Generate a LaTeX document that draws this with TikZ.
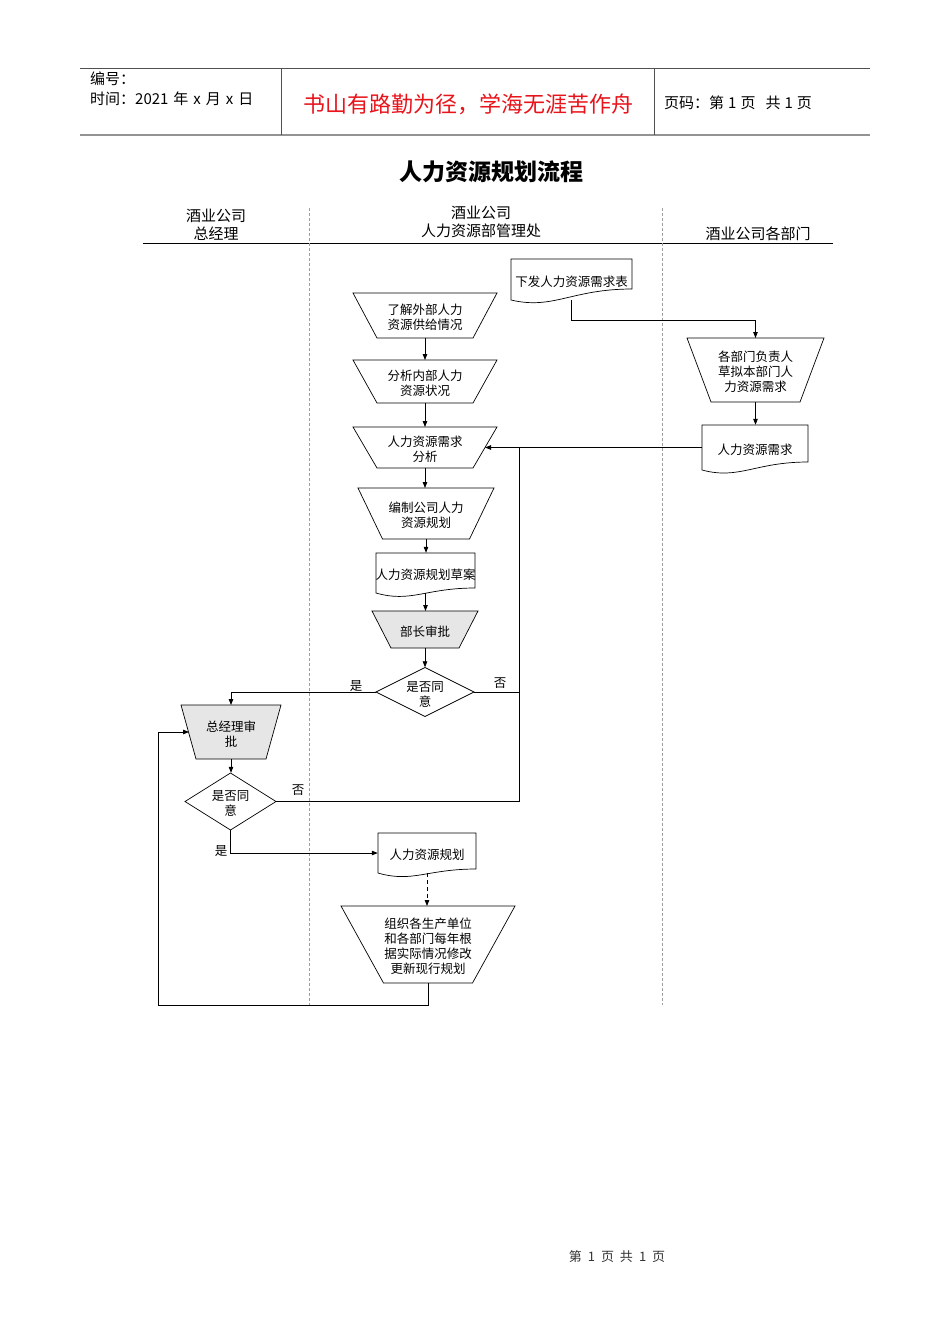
\documentclass[tikz,border=0pt]{standalone}
\usepackage{fontspec}
\setmainfont{Noto Sans CJK SC}
\usetikzlibrary{arrows.meta,calc}
\definecolor{shade}{HTML}{E6E6E6}
\definecolor{hdrline}{HTML}{505050}
\definecolor{redtxt}{HTML}{E8141B}
\tikzset{
 shapeline/.style={draw=black, line width=0.7pt},
 box/.style={inner sep=0pt},
 txt/.style={inner sep=0pt, align=center, font=\fontsize{12.5}{15}\selectfont},
 lbl/.style={inner sep=0pt, font=\fontsize{12.5}{14}\selectfont},
 hdr/.style={inner sep=0pt, align=center, font=\fontsize{15}{18}\selectfont},
 conn/.style={draw=black, line width=0.8pt},
 arr/.style={conn, -{Triangle[length=6pt,width=4.5pt]}},
 lane/.style={draw=gray!75, line width=0.5pt, dash pattern=on 3pt off 2pt},
}
\newcommand{\trapz}[8]{%
  \path[shapeline, fill=#7] (#2-#4/2,#3) -- (#2+#4/2,#3) -- (#2+#5/2,#3+#6) -- (#2-#5/2,#3+#6) -- cycle;
  \node[box, minimum width={#4*1pt}, minimum height={#6*1pt}, anchor=north] (#1) at (#2,#3) {};
  \node[txt] (#1t) at ($(#1.center)+(0,2)$) {#8};
}
\newcommand{\dmd}[6]{%
  \path[shapeline, fill=white] (#2-#4/2,#3) -- (#2,#3-#5/2) -- (#2+#4/2,#3) -- (#2,#3+#5/2) -- cycle;
  \node[box, minimum width={#4*1pt}, minimum height={#5*1pt}] (#1) at (#2,#3) {};
  \node[txt] (#1t) at ($(#1.center)+(0,2)$) {#6};
}
\newcommand{\docu}[7]{%
  \path[shapeline, fill=white] (#2,#3) -- (#4,#3) -- (#4,#5) .. controls ({#4-0.5*(#4-#2)},#5) and ({#2+0.35*(#4-#2)},#6+10) .. (#2,#6) -- cycle;
  \node[box, minimum width={(#4-#2)*1pt}, minimum height={(#6-#3)*1pt}] (#1) at ({(#2+#4)/2},{(#3+#6)/2}) {};
  \node[txt] (#1t) at ($(#1.center)+(0,2)$) {#7};
}
\begin{document}
\begin{tikzpicture}[x=1pt,y=-1pt]
\fill[white] (0,0) rectangle (950,1344);
\useasboundingbox (0,0) rectangle (950,1344);
% header
\draw[hdrline, line width=1pt] (80,68) -- (870,68);
\draw[gray!85, line width=1.8pt] (80,135) -- (870,135);
\draw[hdrline, line width=0.8pt] (281,68) -- (281,135);
\draw[hdrline, line width=0.8pt] (654,68) -- (654,135);
\node[hdr, anchor=west] (h1) at (90,79) {编号：};
\node[hdr, anchor=west] (h2) at (90,99) {时间：2021\hspace{5pt}年\hspace{5pt}x\hspace{5pt}月\hspace{5pt}x\hspace{5pt}日};
\node[inner sep=0pt, font=\fontsize{22}{24}\selectfont, text=redtxt] (h3) at (468,104) {书山有路勤为径，学海无涯苦作舟};
\node[hdr, anchor=west] (h4) at (664,103) {页码：第\hspace{4pt}1\hspace{4pt}页\hspace{10pt}共\hspace{4pt}1\hspace{4pt}页};
% title
\node[inner sep=0pt, font=\bfseries\fontsize{23}{26}\selectfont] (title) at (491,172) {人力资源规划流程};
% lanes
\node[hdr] (l1) at (216,225) {酒业公司\\总经理};
\node[hdr] (l2) at (481,222) {酒业公司\\人力资源部管理处};
\node[hdr] (l3) at (758,234) {酒业公司各部门};
\draw[black, line width=0.9pt] (143,243) -- (833,243);
\draw[lane] (309,208) -- (309,1005);
\draw[lane] (662,208) -- (662,1005);
% shapes
\trapz{n1}{425}{293}{144}{96}{45}{white}{了解外部人力\\资源供给情况}
\trapz{n2}{425}{360}{144}{96}{43}{white}{分析内部人力\\资源状况}
\trapz{n3}{425}{427}{144}{96}{41}{white}{人力资源需求\\分析}
\trapz{n4}{426}{488}{136}{87}{51}{white}{编制公司人力\\资源规划}
\docu{n5}{376}{553}{475}{588}{593}{人力资源规划草案}
\trapz{n6}{425}{611}{106}{68}{37}{shade}{部长审批}
\dmd{d7}{425}{692}{98}{49}{是否同\\意}
\docu{r1}{511}{259}{632}{289}{300}{下发人力资源需求表}
\trapz{r2}{755.5}{338}{137}{89}{64}{white}{各部门负责人\\草拟本部门人\\力资源需求}
\docu{r3}{702}{425}{808}{462}{470}{人力资源需求}
\trapz{g1}{231}{705}{100}{70}{54}{shade}{总经理审\\批}
\dmd{d12}{230.5}{801.5}{91}{57}{是否同\\意}
\docu{n13}{378}{833}{476}{869}{873}{人力资源规划}
\trapz{n14}{428}{906}{174}{89}{77}{white}{组织各生产单位\\和各部门每年根\\据实际情况修改\\更新现行规划}
% labels
\node[lbl] (y1) at (356,686) {是};
\node[lbl] (no1) at (500,683) {否};
\node[lbl] (no2) at (298,790) {否};
\node[lbl] (y2) at (221,851) {是};
% connectors
\coordinate (n3e) at (485,447.5);
\coordinate (j1) at (519,447.5);
\coordinate (lp) at (158,1005);
\coordinate (g1w) at (189,732);
\draw[arr] (n1.south) -- (n2.north);
\draw[arr] (n2.south) -- (n3.north);
\draw[arr] (n3.south) -- (n3.south |- n4.north);
\draw[arr] (n4.south) -- (n4.south |- n5.north);
\draw[arr] (n5.south) -- (n5.south |- n6.north);
\draw[arr] (n6.south) -- (d7.north);
\draw[arr] (r1.south) |- ($(r2.north)+(0,-18)$) -- (r2.north);
\draw[arr] (r2.south) -- (r2.south |- r3.north);
\draw[arr] (r3.west) -- (n3e);
\draw[conn] (d7.east) -| (j1);
\draw[conn] (d12.east) -| (j1);
\draw[arr] (d7.west) -| (g1.north);
\draw[arr] (g1.south) -- (g1.south |- d12.north);
\draw[arr] (d12.south) |- (n13.west);
\draw[arr, dash pattern=on 4pt off 3pt] (n13.south) -- (n13.south |- n14.north);
\draw[arr] (n14.south) |- (lp) |- (g1w);
% footer
\node[inner sep=0pt, font=\fontsize{13}{15}\selectfont, text=black!80] (foot) at (617,1257) {第\hspace{6pt}1\hspace{6pt}页\hspace{6pt}共\hspace{6pt}1\hspace{6pt}页};
\end{tikzpicture}
\end{document}
